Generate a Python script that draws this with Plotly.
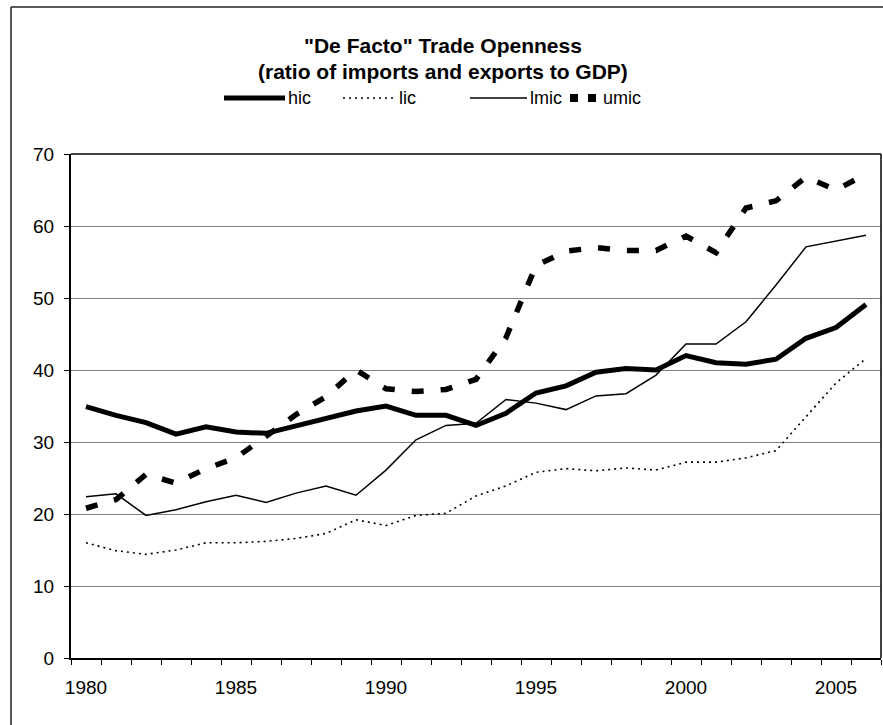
import plotly.graph_objects as go

years = list(range(1980, 2007))
hic = [34.9, 33.7, 32.7, 31.1, 32.1, 31.4, 31.2, 32.2, 33.3, 34.3, 35.0, 33.7, 33.7, 32.3,
       34.0, 36.8, 37.8, 39.7, 40.2, 40.0, 42.0, 41.0, 40.8, 41.5, 44.4, 45.9, 49.1]
lic = [16.0, 14.9, 14.4, 15.0, 16.0, 16.0, 16.2, 16.6, 17.3, 19.2, 18.4, 19.8, 20.1, 22.5,
       23.9, 25.8, 26.3, 26.0, 26.4, 26.1, 27.2, 27.2, 27.8, 28.8, 33.5, 38.2, 41.6]
lmic = [22.4, 22.8, 19.8, 20.6, 21.7, 22.6, 21.6, 22.9, 23.9, 22.6, 26.1, 30.3, 32.3, 32.6,
        35.9, 35.4, 34.5, 36.4, 36.7, 39.3, 43.6, 43.6, 46.7, 51.8, 57.1, 57.9, 58.7]
umic = [20.8, 22.0, 25.5, 24.3, 26.3, 27.8, 30.8, 33.8, 36.3, 40.0, 37.4, 37.0, 37.3, 38.7,
        44.5, 54.5, 56.5, 57.0, 56.6, 56.6, 58.6, 56.3, 62.5, 63.5, 66.8, 65.0, 67.2]
x_tick_labels = ["1980", "1985", "1990", "1995", "2000", "2005"]
x_tick_vals = [1980, 1985, 1990, 1995, 2000, 2005]
title_lines = ['"De Facto" Trade Openness', '(ratio of imports and exports to GDP)']

W, H = 883, 725
L, R, T, B = 71, 881, 154, 658
pw, ph = R - L, B - T

def px(xp):
    return (xp - L) / pw

def py(yp):
    return (B - yp) / ph

FONT = "Liberation Sans, Arial, sans-serif"

styles = {
    "hic": dict(color="black", width=5),
    "lic": dict(color="black", width=1.6, dash="2px,4px"),
    "lmic": dict(color="black", width=1.5),
    "umic": dict(color="black", width=5.5, dash="12px,17px"),
}
series = {"hic": hic, "lic": lic, "lmic": lmic, "umic": umic}

fig = go.Figure()
for name in ["lic", "lmic", "hic", "umic"]:
    fig.add_trace(go.Scatter(x=years, y=series[name], mode="lines", name=name,
                             line=styles[name], showlegend=False))

shapes = []
annotations = []

# plot-area border (top and right)
shapes.append(dict(type="line", xref="paper", yref="paper", x0=0, x1=1, y0=1, y1=1,
                   line=dict(color="black", width=1.5)))
shapes.append(dict(type="line", xref="paper", yref="paper", x0=1, x1=1, y0=0, y1=1,
                   line=dict(color="black", width=1.5)))
# outer chart frame (left and top visible)
shapes.append(dict(type="line", xref="paper", yref="paper", x0=px(11), x1=px(890),
                   y0=py(7), y1=py(7), line=dict(color="#222", width=1.5)))
shapes.append(dict(type="line", xref="paper", yref="paper", x0=px(11), x1=px(11),
                   y0=py(7), y1=py(730), line=dict(color="#222", width=1.5)))

# title
annotations.append(dict(text="<b>" + title_lines[0] + "</b>", xref="paper", yref="paper",
                        x=px(443), y=py(45), xanchor="center", yanchor="middle",
                        showarrow=False, font=dict(family=FONT, size=21, color="black")))
annotations.append(dict(text="<b>" + title_lines[1] + "</b>", xref="paper", yref="paper",
                        x=px(443), y=py(72), xanchor="center", yanchor="middle",
                        showarrow=False, font=dict(family=FONT, size=21, color="black")))

# manual legend
leg_y = 98
leg_items = [("hic", 224, 285), ("lic", 343, 396), ("lmic", 470, 527), ("umic", 570, 600)]
for name, x0, x1 in leg_items:
    st = dict(styles[name])
    if name == "umic":
        st["dash"] = "8px,10px"
        st["width"] = 8
    shapes.append(dict(type="line", xref="paper", yref="paper", x0=px(x0), x1=px(x1),
                       y0=py(leg_y), y1=py(leg_y), line=st))
    annotations.append(dict(text=name, xref="paper", yref="paper", x=px(x1 + 1), y=py(leg_y),
                            xanchor="left", yanchor="middle", showarrow=False,
                            font=dict(family=FONT, size=18, color="black")))

fig.update_layout(
    width=W, height=H,
    margin=dict(l=L, r=W - R, t=T, b=H - B, pad=0),
    paper_bgcolor="white", plot_bgcolor="white",
    font=dict(family=FONT, size=19, color="black"),
    shapes=shapes, annotations=annotations,
    showlegend=False,
)
fig.update_xaxes(
    range=[1979.5, 2006.5], tickvals=x_tick_vals, ticktext=x_tick_labels,
    ticks="", showgrid=False, zeroline=False,
    showline=True, linecolor="black", linewidth=2,
    ticklabelstandoff=11,
    tickfont=dict(family=FONT, size=19, color="black"),
    minor=dict(ticks="outside", tick0=1979.5, dtick=1, ticklen=5, tickcolor="black",
               tickwidth=1, showgrid=False),
)
fig.update_yaxes(
    range=[0, 70], dtick=10, tick0=0,
    ticks="outside", ticklen=5, tickcolor="black", tickwidth=1,
    showgrid=True, gridcolor="#808080", gridwidth=1, zeroline=False,
    showline=True, linecolor="black", linewidth=2,
    ticklabelstandoff=6,
    tickfont=dict(family=FONT, size=19, color="black"),
)

fig.write_html("out.html", config={"displayModeBar": False},
               post_script="document.body.style.margin='0px';")
